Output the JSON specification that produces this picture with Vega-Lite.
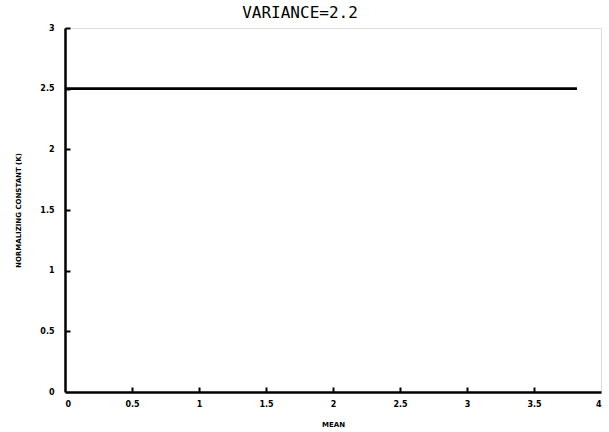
{
  "$schema": "https://vega.github.io/schema/vega-lite/v6.json",
  "width": 536,
  "height": 364,
  "autosize": {"type": "none"},
  "padding": {"left": 65, "top": 28, "right": 8, "bottom": 40},
  "background": "white",
  "title": {
    "text": "VARIANCE=2.2",
    "font": "DejaVu Sans Mono",
    "fontSize": 16,
    "fontWeight": "normal",
    "color": "black",
    "anchor": "middle",
    "dx": -33,
    "offset": 3
  },
  "data": {
    "values": [
      {"mean": 0, "k": 2.5},
      {"mean": 3.82, "k": 2.5}
    ]
  },
  "resolve": {"axis": {"x": "independent", "y": "independent"}},
  "layer": [
    {
      "mark": {"type": "line", "color": "black", "strokeWidth": 2.5},
      "encoding": {
        "x": {
          "field": "mean",
          "type": "quantitative",
          "scale": {"domain": [0, 4], "nice": false},
          "axis": {
            "orient": "bottom",
            "title": "MEAN",
            "values": [0, 0.5, 1, 1.5, 2, 2.5, 3, 3.5, 4],
            "format": "~g",
            "grid": false,
            "ticks": false,
            "domainColor": "black",
            "domainWidth": 2.5,
            "labelPadding": 8,
            "labelFont": "DejaVu Sans",
            "labelFontWeight": "bold",
            "labelFontSize": 8,
            "labelColor": "black",
            "titleFont": "DejaVu Sans",
            "titleFontWeight": "bold",
            "titleFontSize": 7,
            "titleColor": "black",
            "titlePadding": 12
          }
        },
        "y": {
          "field": "k",
          "type": "quantitative",
          "scale": {"domain": [0, 3], "nice": false},
          "axis": {
            "orient": "left",
            "title": "NORMALIZING CONSTANT (K)",
            "values": [0, 0.5, 1, 1.5, 2, 2.5, 3],
            "format": "~g",
            "grid": false,
            "ticks": false,
            "domainColor": "black",
            "domainWidth": 2.5,
            "labelPadding": 11,
            "labelFont": "DejaVu Sans",
            "labelFontWeight": "bold",
            "labelFontSize": 8,
            "labelColor": "black",
            "titleFont": "DejaVu Sans",
            "titleFontWeight": "bold",
            "titleFontSize": 7,
            "titleColor": "black",
            "titlePadding": 18
          }
        }
      }
    },
    {
      "mark": {"type": "line", "color": "black", "strokeWidth": 2.5},
      "encoding": {
        "x": {
          "field": "mean",
          "type": "quantitative",
          "axis": {
            "orient": "bottom",
            "title": null,
            "values": [0.5, 1, 1.5, 2, 2.5, 3, 3.5],
            "labels": false,
            "domain": false,
            "grid": false,
            "ticks": true,
            "offset": -5,
            "tickColor": "black",
            "tickWidth": 2,
            "tickSize": 5
          }
        },
        "y": {
          "field": "k",
          "type": "quantitative",
          "axis": {
            "orient": "left",
            "title": null,
            "values": [0.5, 1, 1.5, 2, 2.5, 3],
            "labels": false,
            "domain": false,
            "grid": false,
            "ticks": true,
            "offset": -5,
            "tickColor": "black",
            "tickWidth": 2,
            "tickSize": 5
          }
        }
      }
    }
  ]
}
